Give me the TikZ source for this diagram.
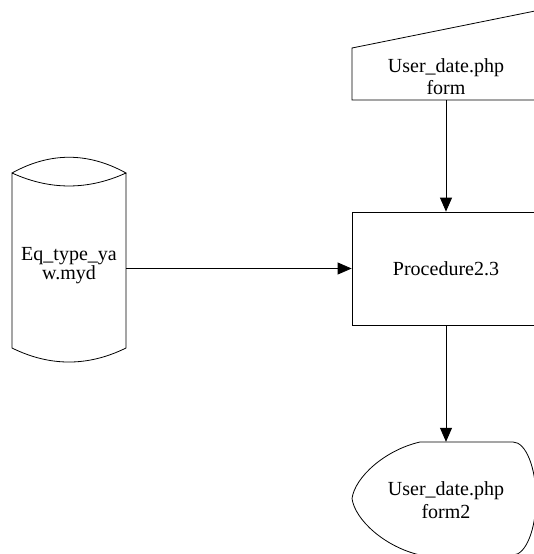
\documentclass[tikz,border=0pt]{standalone}
\usepackage{fontspec}
\setmainfont{Liberation Serif}
\usetikzlibrary{arrows.meta}
\begin{document}
\begin{tikzpicture}[x=1pt,y=-1pt,
  shapeline/.style={draw=black,line width=0.8pt},
  flow/.style={draw=black,line width=0.8pt,-{Triangle[length=14pt,width=12pt]}},
  lbl/.style={font=\fontsize{20}{22}\selectfont,align=center,inner sep=0pt},
  box/.style={shapeline,minimum width=188pt,minimum height=113pt,inner sep=0pt}]
\useasboundingbox (0,0) rectangle (534,554);
\clip (0,0) rectangle (534,554);
% manual input (top)
\node[minimum width=188pt,minimum height=52pt,inner sep=0pt] (inp) at (446,74) {};
\draw[shapeline] (352,48) -- (540,10) -- (540,100) -- (352,100) -- cycle;
\node[lbl] (inptxt) at (446,77) {User\_date.php\\form};
% process box
\node[box,lbl] (proc) at (446,268.5) {Procedure2.3};
% cylinder (data store)
\node[minimum width=114pt,minimum height=205pt,inner sep=0pt] (db) at (69,259.5) {};
\draw[shapeline] (12,173) .. controls (50,152) and (88,152) .. (126,173)
   .. controls (88,190.3) and (50,190.3) .. (12,173) -- (12,348)
   .. controls (50,366.7) and (88,366.7) .. (126,348) -- (126,173);
\node[lbl,font=\fontsize{20}{19}\selectfont] (dbtxt) at (69,266) {Eq\_type\_ya\\w.myd};
% display (bottom)
\node[minimum width=188pt,minimum height=113pt,inner sep=0pt] (disp) at (446,498.5) {};
\draw[shapeline] (420,442) -- (513,442)
   arc[start angle=90,end angle=-90,x radius=23,y radius=-56.5]
   -- (420,555) .. controls (385,547) and (355,520) .. (352,498.5)
   .. controls (355,477) and (385,450) .. (420,442);
\node[lbl,font=\fontsize{20}{23}\selectfont] (disptxt) at (446,500) {User\_date.php\\form2};
% connectors
\draw[flow] (inp.south) -- (proc.north);
\draw[flow] (db.east |- proc.west) -- (proc.west);
\draw[flow] (proc.south) -- (disp.north);
\end{tikzpicture}
\end{document}
